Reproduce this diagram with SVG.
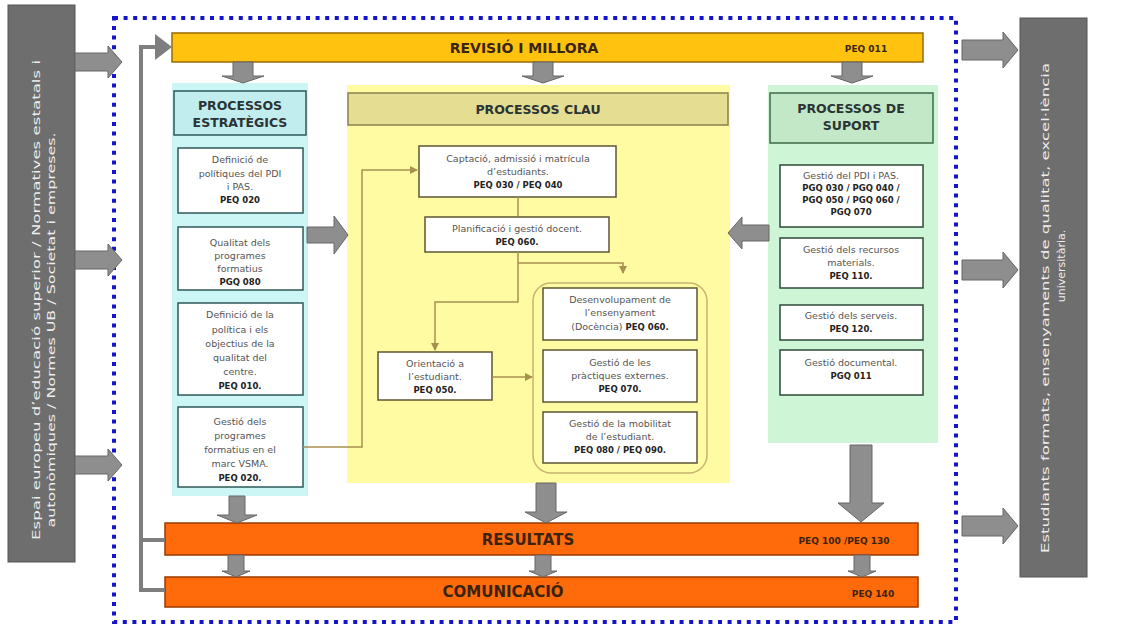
<svg xmlns="http://www.w3.org/2000/svg" width="1135" height="629" viewBox="0 0 1135 629">
<defs>
<style>
.side{fill:#6E6E6E;stroke:#555;stroke-width:1}
.sidet{font-family:"DejaVu Sans",Verdana,sans-serif;font-size:11px;fill:#EDEDED;text-anchor:middle}
.blk{fill:#8E8E8E;stroke:#666;stroke-width:1}
.dots{fill:none;stroke:#1414C8;stroke-width:4;stroke-dasharray:4 5.6}
.bar-y{fill:#FFC20E;stroke:#9A6A00;stroke-width:1.5}
.bar-o{fill:#FF6A0A;stroke:#9A3A00;stroke-width:1.5}
.bart{font-family:"DejaVu Sans",Verdana,sans-serif;font-weight:bold;font-size:14px;fill:#3A2410;text-anchor:middle}
.code{font-family:"DejaVu Sans",Verdana,sans-serif;font-weight:bold;font-size:9px;fill:#3A2410;text-anchor:middle}
.hdr{font-family:"DejaVu Sans",Verdana,sans-serif;font-weight:bold;font-size:12.5px;fill:#2A3434;text-anchor:middle}
.bx{fill:#FFFFFF;stroke-width:1.5}
.bxl{stroke:#2E5858}
.bxc{stroke:#5E5634}
.bxr{stroke:#2E4A38}
.t{font-family:"DejaVu Sans",Verdana,sans-serif;font-size:9.5px;fill:#555;text-anchor:middle}
.b{font-family:"DejaVu Sans",Verdana,sans-serif;font-weight:bold;font-size:8.5px;fill:#222;text-anchor:middle}
.thin{fill:none;stroke:#A89050;stroke-width:1.5}
.fb{fill:none;stroke:#7E7E7E;stroke-width:4}
</style>
<marker id="ah" viewBox="0 0 8 8" refX="7" refY="4" markerWidth="8" markerHeight="8" markerUnits="userSpaceOnUse" orient="auto">
<path d="M0,0 L8,4 L0,8 Z" fill="#A89050"/>
</marker>
</defs>
<rect width="1135" height="629" fill="#FFFFFF"/>

<!-- outer dotted frame -->
<rect class="dots" x="114" y="18" width="842" height="604"/>

<g id="input-bar">
<rect class="side" x="8" y="5" width="67" height="557"/>
<text class="sidet" transform="translate(40,300) rotate(-90)" textLength="480" lengthAdjust="spacingAndGlyphs">Espai europeu d’educació superior / Normatives estatals i</text>
<text class="sidet" transform="translate(55,330) rotate(-90)" textLength="395" lengthAdjust="spacingAndGlyphs">autonòmiques / Normes UB / Societat i empreses.</text>
</g>

<g id="output-bar">
<rect class="side" x="1020" y="18" width="67" height="559"/>
<text class="sidet" transform="translate(1049,308) rotate(-90)" textLength="490" lengthAdjust="spacingAndGlyphs">Estudiants formats, ensenyaments de qualitat, excel·lència</text>
<text class="sidet" transform="translate(1065,266) rotate(-90)">universitària.</text>
</g>

<g id="revisio">
<rect class="bar-y" x="172" y="33" width="751" height="29"/>
<text class="bart" x="524" y="53">REVISIÓ I MILLORA</text>
<text class="code" x="866" y="52">PEQ 011</text>
</g>

<g id="estrategics">
<rect x="172" y="83" width="136" height="413" fill="#CCF6F6"/>
<rect x="174" y="91" width="132" height="44" fill="#C2EDEE" stroke="#2E5858" stroke-width="1.5"/>
<text class="hdr" x="240" y="110">PROCESSOS</text>
<text class="hdr" x="240" y="127">ESTRATÈGICS</text>
<g id="e1"><rect class="bx bxl" x="178" y="148" width="125" height="65"/>
<text class="t" x="240" y="163">Definició de</text><text class="t" x="240" y="177">polítiques del PDI</text><text class="t" x="240" y="190">i PAS.</text><text class="b" x="240" y="203">PEQ 020</text></g>
<g id="e2"><rect class="bx bxl" x="178" y="227" width="125" height="63"/>
<text class="t" x="240" y="246">Qualitat dels</text><text class="t" x="240" y="259">programes</text><text class="t" x="240" y="272">formatius</text><text class="b" x="240" y="285">PGQ 080</text></g>
<g id="e3"><rect class="bx bxl" x="178" y="303" width="125" height="92"/>
<text class="t" x="240" y="318">Definició de la</text><text class="t" x="240" y="333">política i els</text><text class="t" x="240" y="347">objectius de la</text><text class="t" x="240" y="361">qualitat del</text><text class="t" x="240" y="375">centre.</text><text class="b" x="240" y="389">PEQ 010.</text></g>
<g id="e4"><rect class="bx bxl" x="178" y="407" width="125" height="80"/>
<text class="t" x="240" y="425">Gestió dels</text><text class="t" x="240" y="439">programes</text><text class="t" x="240" y="453">formatius en el</text><text class="t" x="240" y="467">marc VSMA.</text><text class="b" x="240" y="481">PEQ 020.</text></g>
</g>

<g id="clau">
<rect x="347" y="85" width="383" height="398" fill="#FFFBA2"/>
<rect x="348" y="93" width="380" height="32" fill="#E4DD92" stroke="#8A8050" stroke-width="1.5"/>
<text class="hdr" x="538" y="114">PROCESSOS CLAU</text>
<rect x="533" y="283" width="174" height="190" rx="18" fill="none" stroke="#C8B470" stroke-width="1.5"/>
<g id="c1"><rect class="bx bxc" x="419" y="146" width="197" height="51"/>
<text class="t" x="518" y="162">Captació, admissió i matrícula</text><text class="t" x="518" y="175">d’estudiants.</text><text class="b" x="518" y="188">PEQ 030 / PEQ 040</text></g>
<g id="c2"><rect class="bx bxc" x="425" y="217" width="184" height="35"/>
<text class="t" x="517" y="232">Planificació i gestió docent.</text><text class="b" x="517" y="245">PEQ 060.</text></g>
<g id="c3"><rect class="bx bxc" x="378" y="352" width="114" height="48"/>
<text class="t" x="435" y="367">Orientació a</text><text class="t" x="435" y="380">l’estudiant.</text><text class="b" x="435" y="393">PEQ 050.</text></g>
<g id="c4"><rect class="bx bxc" x="543" y="288" width="154" height="52"/>
<text class="t" x="620" y="303">Desenvolupament de</text><text class="t" x="620" y="316">l’ensenyament</text><text class="t" x="620" y="330">(Docència) <tspan class="b" style="font-size:8.5px">PEQ 060.</tspan></text></g>
<g id="c5"><rect class="bx bxc" x="543" y="350" width="154" height="52"/>
<text class="t" x="620" y="366">Gestió de les</text><text class="t" x="620" y="379">pràctiques externes.</text><text class="b" x="620" y="392">PEQ 070.</text></g>
<g id="c6"><rect class="bx bxc" x="543" y="412" width="154" height="51"/>
<text class="t" x="620" y="427">Gestió de la mobilitat</text><text class="t" x="620" y="440">de l’estudiant.</text><text class="b" x="620" y="453">PEQ 080 / PEQ 090.</text></g>
</g>

<g id="suport">
<rect x="768" y="85" width="170" height="358" fill="#CDF5D6"/>
<rect x="770" y="93" width="163" height="50" fill="#C2E8C8" stroke="#3C6A4A" stroke-width="1.5"/>
<text class="hdr" x="851" y="113">PROCESSOS DE</text>
<text class="hdr" x="851" y="130">SUPORT</text>
<g id="s1"><rect class="bx bxr" x="780" y="165" width="143" height="62"/>
<text class="t" x="851" y="179">Gestió del PDI i PAS.</text><text class="b" x="851" y="191">PGQ 030 / PGQ 040 /</text><text class="b" x="851" y="203">PGQ 050 / PGQ 060 /</text><text class="b" x="851" y="215">PGQ 070</text></g>
<g id="s2"><rect class="bx bxr" x="780" y="238" width="143" height="50"/>
<text class="t" x="851" y="253">Gestió dels recursos</text><text class="t" x="851" y="266">materials.</text><text class="b" x="851" y="279">PEQ 110.</text></g>
<g id="s3"><rect class="bx bxr" x="780" y="305" width="143" height="35"/>
<text class="t" x="851" y="319">Gestió dels serveis.</text><text class="b" x="851" y="332">PEQ 120.</text></g>
<g id="s4"><rect class="bx bxr" x="780" y="350" width="143" height="45"/>
<text class="t" x="851" y="366">Gestió documental.</text><text class="b" x="851" y="379">PGQ 011</text></g>
</g>

<g id="resultats">
<rect class="bar-o" x="165" y="523" width="753" height="32"/>
<text class="bart" x="528" y="545" style="font-size:15px">RESULTATS</text>
<text class="code" x="844" y="544">PEQ 100 /PEQ 130</text>
</g>

<g id="comunicacio">
<rect class="bar-o" x="165" y="577" width="753" height="30"/>
<text class="bart" x="503" y="597" style="font-size:15px">COMUNICACIÓ</text>
<text class="code" x="873" y="597">PEQ 140</text>
</g>

<g id="connectors">
<!-- feedback line -->
<path class="fb" d="M165,590 H141 V47 H158 M141,540 H165"/>
<polygon points="155,34 172,47 155,60" fill="#7E7E7E"/>
<!-- thin flow lines -->
<path class="thin" d="M303,447 H362 V170 H417" marker-end="url(#ah)"/>
<path class="thin" d="M518,197 V216"/>
<path class="thin" d="M518,252 V302 H435 V350" marker-end="url(#ah)"/>
<path class="thin" d="M518,263 H623 V273" marker-end="url(#ah)"/>
<path class="thin" d="M492,377 H532" marker-end="url(#ah)"/>
<!-- block arrows: input -->
<path class="blk" d="M75,53 H108 V46 L122,62 L108,78 V71 H75 Z"/>
<path class="blk" d="M75,251 H108 V244 L122,260 L108,276 V269 H75 Z"/>
<path class="blk" d="M75,456 H108 V449 L122,465 L108,481 V474 H75 Z"/>
<!-- output -->
<path class="blk" d="M962,40 H1003 V32 L1018,50 L1003,68 V60 H962 Z"/>
<path class="blk" d="M962,260 H1003 V252 L1018,270 L1003,288 V280 H962 Z"/>
<path class="blk" d="M962,516 H1003 V508 L1018,526 L1003,544 V536 H962 Z"/>
<!-- down from revisio -->
<path class="blk" d="M233,62 H253 V76 H264 L243,83 L222,76 H233 Z"/>
<path class="blk" d="M533,62 H553 V76 H564 L543,83 L522,76 H533 Z"/>
<path class="blk" d="M842,62 H862 V76 H873 L852,83 L831,76 H842 Z"/>
<!-- side into clau -->
<path class="blk" d="M307,227 H334 V216 L348,235 L334,254 V243 H307 Z"/>
<path class="blk" d="M769,225 H742 V217 L728,233 L742,249 V241 H769 Z"/>
<!-- down to resultats -->
<path class="blk" d="M229,496 H245 V515 H257 L237,523 L217,515 H229 Z"/>
<path class="blk" d="M536,483 H556 V512 H567 L546,523 L525,512 H536 Z"/>
<path class="blk" d="M850,445 H872 V503 H884 L861,522 L838,503 H850 Z"/>
<!-- resultats to comunicacio -->
<path class="blk" d="M228,555 H244 V571 H250 L236,577 L222,571 H228 Z"/>
<path class="blk" d="M535,555 H551 V571 H557 L543,577 L529,571 H535 Z"/>
<path class="blk" d="M854,555 H870 V571 H876 L862,577 L848,571 H854 Z"/>
</g>
</svg>
